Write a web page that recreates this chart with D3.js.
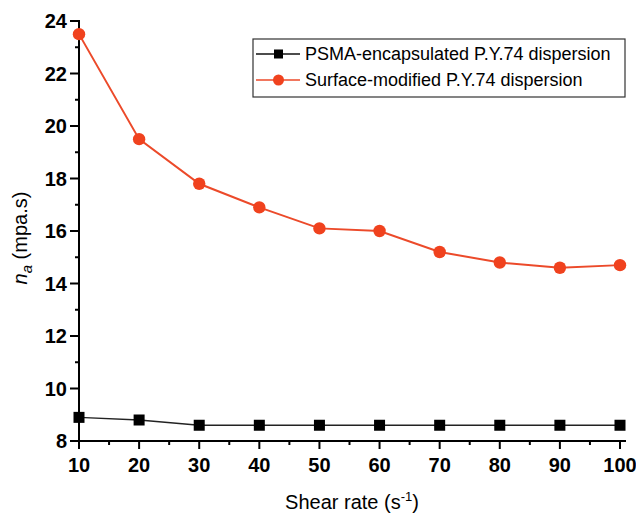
<!DOCTYPE html>
<html><head><meta charset="utf-8">
<script src="https://cdn.jsdelivr.net/npm/d3@7"></script>
<style>body{margin:0;background:#fff}svg{display:block}</style>
</head><body>
<script>
const shearRates = [10,20,30,40,50,60,70,80,90,100];
const psmaValues = [8.9,8.8,8.6,8.6,8.6,8.6,8.6,8.6,8.6,8.6];
const surfaceValues = [23.5,19.5,17.8,16.9,16.1,16.0,15.2,14.8,14.6,14.7];
const seriesNames = ["PSMA-encapsulated P.Y.74 dispersion","Surface-modified P.Y.74 dispersion"];
const xTicks = [10,20,30,40,50,60,70,80,90,100];
const yTicks = [8,10,12,14,16,18,20,22,24];

const W=636,H=515;
const svg=d3.select("body").append("svg").attr("width",W).attr("height",H);
const x=d3.scaleLinear().domain([10,100]).range([79,620]);
const y=d3.scaleLinear().domain([8,24]).range([441,21]);
const font="Arial, 'Liberation Sans', sans-serif";

// axes
const xAxis=svg.append("g").attr("transform","translate(0,441)");
xAxis.append("line").attr("x1",79).attr("x2",626).attr("stroke","#000").attr("stroke-width",2);
d3.range(10,101,5).forEach(v=>{
  const major=v%10===0;
  xAxis.append("line").attr("x1",x(v)).attr("x2",x(v)).attr("y1",0).attr("y2",major?8:4).attr("stroke","#000").attr("stroke-width",2);
});
xTicks.forEach(v=>xAxis.append("text").attr("x",x(v)).attr("y",31).attr("text-anchor","middle")
  .attr("font-family",font).attr("font-weight","bold").attr("font-size",20).text(v));

const yAxis=svg.append("g").attr("transform","translate(79,0)");
yAxis.append("line").attr("y1",20).attr("y2",442).attr("stroke","#000").attr("stroke-width",2);
d3.range(8,24.01,1).forEach(v=>{
  const major=v%2===0;
  yAxis.append("line").attr("x1",0).attr("x2",major?-9:-4).attr("y1",y(v)).attr("y2",y(v)).attr("stroke","#000").attr("stroke-width",2);
});
yTicks.forEach(v=>yAxis.append("text").attr("x",-12).attr("y",y(v)).attr("dy","0.36em").attr("text-anchor","end")
  .attr("font-family",font).attr("font-weight","bold").attr("font-size",20).text(v));

// axis titles
const xt=svg.append("text").attr("x",352).attr("y",509).attr("text-anchor","middle").attr("font-family",font).attr("font-size",20);
xt.append("tspan").text("Shear rate (s");
xt.append("tspan").attr("font-size",13).attr("dy",-8).text("-1");
xt.append("tspan").attr("dy",8).text(")");

const yt=svg.append("text").attr("transform","translate(27,238) rotate(-90)").attr("text-anchor","middle").attr("font-family",font).attr("font-size",20);
yt.append("tspan").attr("font-style","italic").text("n");
yt.append("tspan").attr("font-style","italic").attr("font-size",15).attr("dy",5).text("a");
yt.append("tspan").attr("dy",-5).text(" (mpa.s)");

// lines
const line=d3.line().x(d=>x(d[0])).y(d=>y(d[1]));
const psma=shearRates.map((s,i)=>[s,psmaValues[i]]);
const surf=shearRates.map((s,i)=>[s,surfaceValues[i]]);
const red="#f0421e";
svg.append("path").datum(surf).attr("d",line).attr("fill","none").attr("stroke","#ec4a2a").attr("stroke-width",2);
svg.append("path").datum(psma).attr("d",line).attr("fill","none").attr("stroke","#222").attr("stroke-width",1.5);
svg.selectAll(".sq").data(psma).join("rect").attr("x",d=>x(d[0])-5.5).attr("y",d=>y(d[1])-5.5)
  .attr("width",11).attr("height",11).attr("fill","#000");
svg.selectAll(".ci").data(surf).join("circle").attr("cx",d=>x(d[0])).attr("cy",d=>y(d[1])).attr("r",6.2).attr("fill",red);

// legend
const lg=svg.append("g");
lg.append("rect").attr("x",253).attr("y",39).attr("width",372).attr("height",58).attr("fill","#fff").attr("stroke","#333").attr("stroke-width",1.2);
const rows=[{y:54,color:"#111"},{y:80,color:"#ec4a2a"}];
rows.forEach((r,i)=>{
  lg.append("line").attr("x1",256).attr("x2",300).attr("y1",r.y).attr("y2",r.y).attr("stroke",r.color).attr("stroke-width",1.5);
  if(i===0) lg.append("rect").attr("x",274).attr("y",r.y-4.5).attr("width",9).attr("height",9).attr("fill","#000");
  else lg.append("circle").attr("cx",278.5).attr("cy",r.y).attr("r",5.5).attr("fill",red);
  lg.append("text").attr("x",305).attr("y",r.y).attr("dy","0.36em").attr("font-family",font).attr("font-size",18).text(seriesNames[i]);
});
</script>
</body></html>
